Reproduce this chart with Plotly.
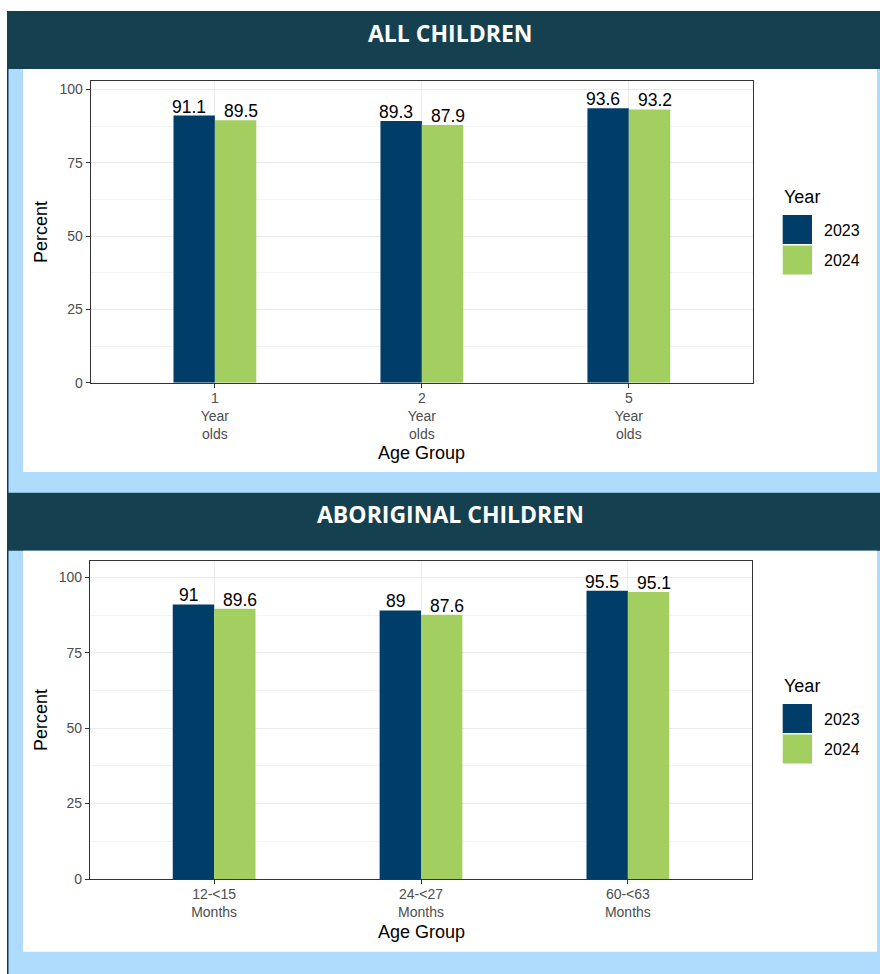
import plotly.graph_objects as go

# ---- data -------------------------------------------------------------
years = ["2023", "2024"]
year_colors = ["#003d68", "#a3ce60"]

all_groups = ["1<br>Year<br>olds", "2<br>Year<br>olds", "5<br>Year<br>olds"]
all_2023 = [91.1, 89.3, 93.6]
all_2024 = [89.5, 87.9, 93.2]

abo_groups = ["12-<15<br>Months", "24-<27<br>Months", "60-<63<br>Months"]
abo_2023 = [91, 89, 95.5]
abo_2024 = [89.6, 87.6, 95.1]

y_ticks = [0, 25, 50, 75, 100]

# ---- page geometry (pixels -> paper fractions) -------------------------
W, H = 880, 974
FONT = "Liberation Sans, Arial, sans-serif"


def px(x):
    return x / W


def py(y):
    return 1 - y / H


LIGHT_BLUE = "#afdcfd"
HEADER = "#154050"
EDGE = "#0b3c5d"

fig = go.Figure()

panels = [
    dict(title="ALL CHILDREN", groups=all_groups, series=[all_2023, all_2024],
         xa="x", ya="y", xdom=(90.7, 753), ydom=(382.8, 80.7), ymax=103,
         header=(11, 69), card=(69, 472), title_y=33,
         ytitle_y=232, xtitle_y=453, legend_top=186),
    dict(title="ABORIGINAL CHILDREN", groups=abo_groups, series=[abo_2023, abo_2024],
         xa="x2", ya="y2", xdom=(90, 752), ydom=(879, 561), ymax=105.4,
         header=(492.7, 550.7), card=(550.7, 951.7), title_y=513.5,
         ytitle_y=720, xtitle_y=932, legend_top=675),
]

shapes = [
    # white strip along the top and left edge of the page
    dict(type="rect", xref="paper", yref="paper", x0=0, x1=1, y0=py(11), y1=1,
         fillcolor="white", line_width=0, layer="below"),
    dict(type="rect", xref="paper", yref="paper", x0=0, x1=px(7), y0=0, y1=1,
         fillcolor="white", line_width=0, layer="below"),
    # thin dark rule down the left side
    dict(type="rect", xref="paper", yref="paper", x0=px(7), x1=px(8.5), y0=0, y1=py(11),
         fillcolor=EDGE, line_width=0, layer="below"),
]
annotations = []
layout_axes = {}

for n, p in enumerate(panels):
    idx = list(range(len(p["groups"])))
    sfx = "" if n == 0 else str(n + 1)

    # header band and white card
    shapes.append(dict(type="rect", xref="paper", yref="paper",
                       x0=px(7), x1=1, y0=py(p["header"][1]), y1=py(p["header"][0]),
                       fillcolor=HEADER, line_width=0, layer="below"))
    shapes.append(dict(type="rect", xref="paper", yref="paper",
                       x0=px(23), x1=px(877), y0=py(p["card"][1]), y1=py(p["card"][0]),
                       fillcolor="white", line_width=0, layer="below"))
    annotations.append(dict(text=p["title"], xref="paper", yref="paper",
                            x=px(450), y=py(p["title_y"]), showarrow=False,
                            xanchor="center", yanchor="middle",
                            font=dict(family="Open Sans", size=23, color="white",
                                      weight="bold")))

    # bars and value labels
    for k, yr in enumerate(years):
        vals = p["series"][k]
        fig.add_trace(go.Bar(
            x=idx, y=vals, name=yr, offsetgroup=yr,
            marker=dict(color=year_colors[k], line_width=0),
            xaxis=p["xa"], yaxis=p["ya"], showlegend=False,
            hovertemplate="%{y}<extra>" + yr + "</extra>",
        ))
        shift = -0.125 if k == 0 else 0.125
        for i, v in zip(idx, vals):
            annotations.append(dict(
                text=f"{v:g}", x=i + shift, y=v, xref=p["xa"], yref=p["ya"],
                showarrow=False, xanchor="center", yanchor="bottom", yshift=-3,
                font=dict(family=FONT, size=17.5, color="black")))

    # axis titles
    annotations.append(dict(text="Percent", xref="paper", yref="paper",
                            x=px(41), y=py(p["ytitle_y"]), textangle=-90,
                            showarrow=False, xanchor="center", yanchor="middle",
                            font=dict(family=FONT, size=18, color="black")))
    annotations.append(dict(text="Age Group", xref="paper", yref="paper",
                            x=px((p["xdom"][0] + p["xdom"][1]) / 2), y=py(p["xtitle_y"]),
                            showarrow=False, xanchor="center", yanchor="middle",
                            font=dict(family=FONT, size=18, color="black")))

    # legend drawn beside the plot
    top = p["legend_top"]
    annotations.append(dict(text="Year", xref="paper", yref="paper",
                            x=px(782), y=py(top + 11), showarrow=False,
                            xanchor="left", yanchor="middle",
                            font=dict(family=FONT, size=18, color="black")))
    for k, yr in enumerate(years):
        ky0 = top + 29 + k * 30.5
        shapes.append(dict(type="rect", xref="paper", yref="paper",
                           x0=px(782.7), x1=px(812), y0=py(ky0 + 29), y1=py(ky0),
                           fillcolor=year_colors[k], line_width=0))
        annotations.append(dict(text=yr, xref="paper", yref="paper",
                                x=px(822), y=py(ky0 + 15), showarrow=False,
                                xanchor="left", yanchor="middle",
                                font=dict(family=FONT, size=16, color="black")))

    axis_common = dict(showline=True, mirror=True, linecolor="#333333", linewidth=1.3,
                       ticks="outside", ticklen=4, tickwidth=1.3, tickcolor="#333333",
                       tickfont=dict(family=FONT, size=14, color="#4d4d4d"),
                       zeroline=False, fixedrange=True, automargin=False)
    layout_axes["xaxis" + sfx] = dict(
        axis_common, domain=[px(p["xdom"][0]), px(p["xdom"][1])],
        anchor="y" + sfx, range=[-0.6, len(idx) - 0.4],
        tickmode="array", tickvals=idx, ticktext=p["groups"],
        ticklabelstandoff=-2,
        showgrid=True, gridcolor="#ebebeb", gridwidth=1.3)
    layout_axes["yaxis" + sfx] = dict(
        axis_common, domain=[py(p["ydom"][0]), py(p["ydom"][1])],
        anchor="x" + sfx, range=[0, p["ymax"]],
        tickmode="array", tickvals=y_ticks,
        showgrid=True, gridcolor="#ebebeb", gridwidth=1.3,
        minor=dict(tickmode="linear", tick0=12.5, dtick=25, showgrid=True,
                   gridcolor="#f3f3f3", gridwidth=1, ticks=""))

fig.update_layout(
    width=W, height=H,
    margin=dict(l=0, r=0, t=0, b=0, pad=0, autoexpand=False),
    paper_bgcolor=LIGHT_BLUE, plot_bgcolor="white",
    barmode="group", bargap=0.6, bargroupgap=0,
    shapes=shapes, annotations=annotations,
    font=dict(family=FONT), showlegend=False,
    **layout_axes,
)

fig.write_html("out.html")
